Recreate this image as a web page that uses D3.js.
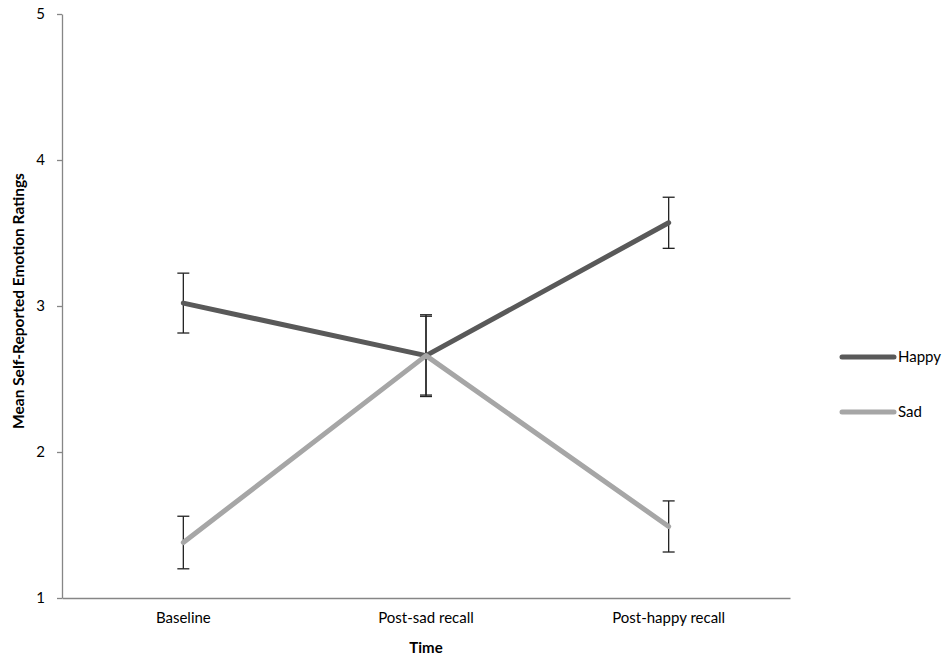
<!DOCTYPE html>
<html>
<head>
<meta charset="utf-8">
<script src="https://cdn.jsdelivr.net/npm/d3@7"></script>
<style>
  html, body { margin: 0; padding: 0; background: #fff; }
  svg { display: block; font-family: Lato, "Open Sans", sans-serif; }
</style>
</head>
<body>
<svg id="chart" width="948" height="661"></svg>
<script>
// Time points on the x axis
const categories = ["Baseline", "Post-sad recall", "Post-happy recall"];
// Mean ratings per series
const happyMeans = [3.02, 2.66, 3.57];
const sadMeans = [1.38, 2.66, 1.49];
// Error bar half-widths per series
const happyErr = [0.205, 0.28, 0.175];
const sadErr = [0.18, 0.27, 0.175];
const yTicks = [1, 2, 3, 4, 5];

const series = [
  { name: "Happy", means: happyMeans, err: happyErr, color: "#595959" },
  { name: "Sad", means: sadMeans, err: sadErr, color: "#a6a6a6" }
];

const svg = d3.select("#chart");
const plot = { left: 62, right: 790, top: 14, bottom: 598 };
const labelSize = 15;

const x = d3.scaleBand().domain(categories).range([plot.left, plot.right]);
const xc = c => x(c) + x.bandwidth() / 2;
const y = d3.scaleLinear().domain([1, 5]).range([plot.bottom, plot.top]);

// Y axis
const yAxis = svg.append("g")
  .attr("transform", `translate(${plot.left},0)`)
  .call(d3.axisLeft(y).tickValues(yTicks).tickFormat(d3.format("d"))
    .tickSize(5).tickSizeOuter(0).tickPadding(12));
yAxis.select(".domain").attr("stroke", "#868686").attr("stroke-width", 1.3);
yAxis.selectAll(".tick line").attr("stroke", "#868686").attr("stroke-width", 1.3);
yAxis.selectAll(".tick text").attr("font-size", labelSize).attr("fill", "#000")
  .attr("font-family", "Lato, sans-serif");

// X axis
const xAxis = svg.append("g")
  .attr("transform", `translate(0,${plot.bottom})`)
  .call(d3.axisBottom(x).tickSize(0).tickSizeOuter(0).tickPadding(14));
xAxis.select(".domain").attr("stroke", "#868686").attr("stroke-width", 1.3);
xAxis.selectAll(".tick text").attr("font-size", labelSize).attr("fill", "#000")
  .attr("font-family", "Lato, sans-serif");

// Axis titles
svg.append("text")
  .attr("x", xc(categories[1]))
  .attr("y", 653)
  .attr("text-anchor", "middle")
  .attr("font-size", labelSize)
  .attr("font-weight", "bold")
  .text("Time");

svg.append("text")
  .attr("transform", `translate(24,301) rotate(-90)`)
  .attr("text-anchor", "middle")
  .attr("font-size", 15.5)
  .attr("font-weight", "bold")
  .text("Mean Self-Reported Emotion Ratings");

// Error bars
const capHalf = 6;
series.forEach(s => {
  const g = svg.append("g").attr("stroke", "#222").attr("stroke-width", 1.3);
  categories.forEach((c, i) => {
    const cx = xc(c);
    const lo = y(s.means[i] - s.err[i]);
    const hi = y(s.means[i] + s.err[i]);
    g.append("line").attr("x1", cx).attr("x2", cx).attr("y1", lo).attr("y2", hi);
    g.append("line").attr("x1", cx - capHalf).attr("x2", cx + capHalf).attr("y1", lo).attr("y2", lo);
    g.append("line").attr("x1", cx - capHalf).attr("x2", cx + capHalf).attr("y1", hi).attr("y2", hi);
  });
});

// Series lines (Sad drawn last, on top)
const line = d3.line().x((d, i) => xc(categories[i])).y(d => y(d));
series.forEach(s => {
  svg.append("path")
    .datum(s.means)
    .attr("d", line)
    .attr("fill", "none")
    .attr("stroke", s.color)
    .attr("stroke-width", 5)
    .attr("stroke-linecap", "round")
    .attr("stroke-linejoin", "round");
});

// Legend
const legend = svg.append("g");
series.forEach((s, i) => {
  const ly = 357 + i * 55;
  legend.append("line")
    .attr("x1", 842).attr("x2", 894).attr("y1", ly).attr("y2", ly)
    .attr("stroke", s.color).attr("stroke-width", 5).attr("stroke-linecap", "round");
  legend.append("text")
    .attr("x", 898).attr("y", ly + 5)
    .attr("font-size", labelSize)
    .text(s.name);
});
</script>
</body>
</html>
